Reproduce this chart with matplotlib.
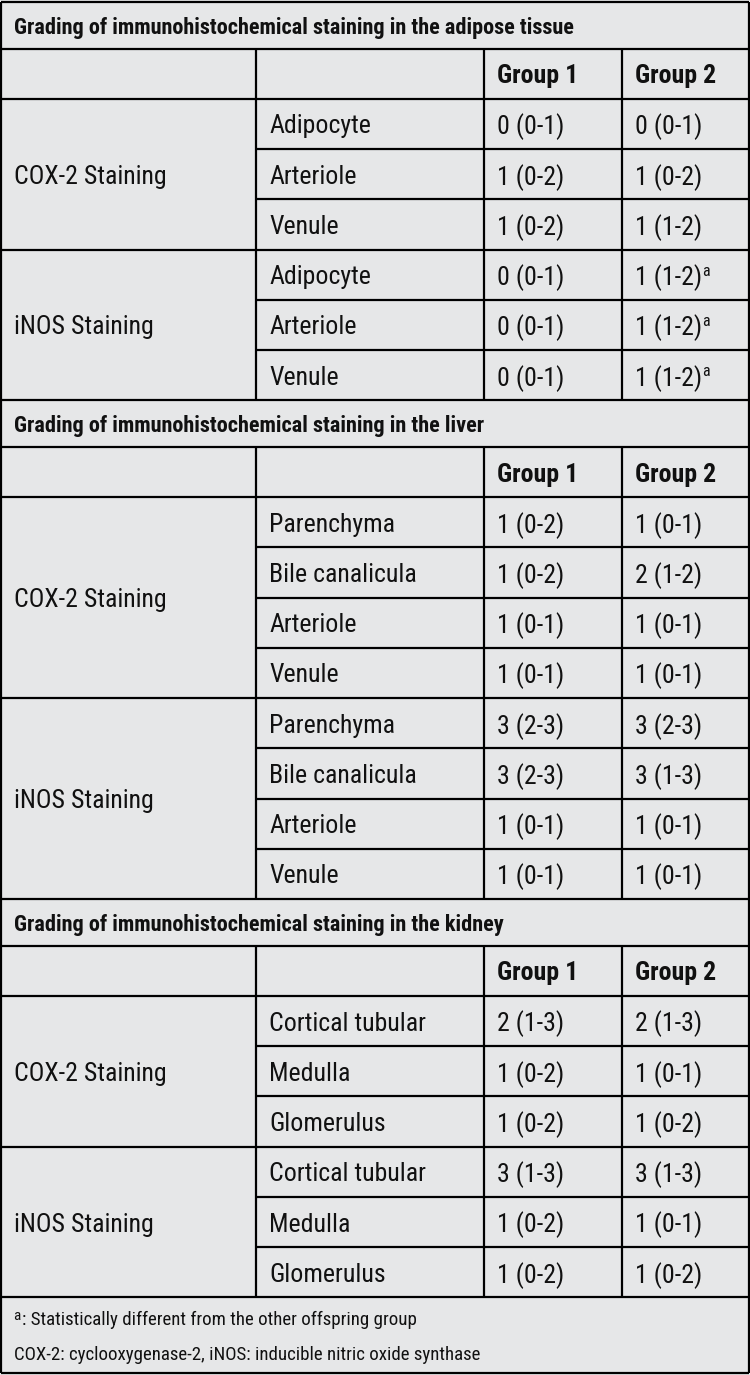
import matplotlib
matplotlib.use("Agg")
import matplotlib.pyplot as plt

#====================1======================
#               data
#===========================================
group_labels = ["Group 1", "Group 2"]
marker_labels = ["COX-2 Staining", "iNOS Staining"]

adipose_title = "Grading of immunohistochemical staining in the adipose tissue"
adipose_sites = ["Adipocyte", "Arteriole", "Venule"]
adipose_cox_g1 = ["0 (0-1)", "1 (0-2)", "1 (0-2)"]
adipose_cox_g2 = ["0 (0-1)", "1 (0-2)", "1 (1-2)"]
adipose_inos_g1 = ["0 (0-1)", "0 (0-1)", "0 (0-1)"]
adipose_inos_g2 = ["1 (1-2)^a", "1 (1-2)^a", "1 (1-2)^a"]

liver_title = "Grading of immunohistochemical staining in the liver"
liver_sites = ["Parenchyma", "Bile canalicula", "Arteriole", "Venule"]
liver_cox_g1 = ["1 (0-2)", "1 (0-2)", "1 (0-1)", "1 (0-1)"]
liver_cox_g2 = ["1 (0-1)", "2 (1-2)", "1 (0-1)", "1 (0-1)"]
liver_inos_g1 = ["3 (2-3)", "3 (2-3)", "1 (0-1)", "1 (0-1)"]
liver_inos_g2 = ["3 (2-3)", "3 (1-3)", "1 (0-1)", "1 (0-1)"]

kidney_title = "Grading of immunohistochemical staining in the kidney"
kidney_sites = ["Cortical tubular", "Medulla", "Glomerulus"]
kidney_cox_g1 = ["2 (1-3)", "1 (0-2)", "1 (0-2)"]
kidney_cox_g2 = ["2 (1-3)", "1 (0-1)", "1 (0-2)"]
kidney_inos_g1 = ["3 (1-3)", "1 (0-2)", "1 (0-2)"]
kidney_inos_g2 = ["3 (1-3)", "1 (0-1)", "1 (0-2)"]

footnote_1 = ": Statistically different from the other offspring group"
footnote_2 = "COX-2: cyclooxygenase-2, iNOS: inducible nitric oxide synthase"

sections = [
    (adipose_title, adipose_sites, [(adipose_cox_g1, adipose_cox_g2),
                                    (adipose_inos_g1, adipose_inos_g2)]),
    (liver_title, liver_sites, [(liver_cox_g1, liver_cox_g2),
                                (liver_inos_g1, liver_inos_g2)]),
    (kidney_title, kidney_sites, [(kidney_cox_g1, kidney_cox_g2),
                                  (kidney_inos_g1, kidney_inos_g2)]),
]

#====================2======================
#          layout (pixels)
#===========================================
W, H = 750, 1375
bg = "#e6e7e8"
ink = "#111111"
lw = 1.6
col_x = [1, 256, 484, 622, 749]
pad = 13
y_top = 2
h_title, h_head, h_row = 46.8, 50.0, 50.25
fs, fs_title, fs_note = 18.6, 16, 13.6

plt.rcParams['font.family'] = ['Roboto Condensed', 'DejaVu Sans']

fig = plt.figure(figsize=(W / 100, H / 100), dpi=100, facecolor=bg)
ax = fig.add_axes([0, 0, 1, 1])
ax.set_xlim(0, W)
ax.set_ylim(H, 0)
ax.axis('off')
ax.set_facecolor(bg)


def hline(y, x0=col_x[0], x1=col_x[-1]):
    ax.plot([x0, x1], [y, y], color='black', lw=lw, solid_capstyle='butt')


def vline(x, y0, y1):
    ax.plot([x, x], [y0, y1], color='black', lw=lw, solid_capstyle='butt')


fig.canvas.draw()
renderer = fig.canvas.get_renderer()


def cell_text(x, y, s, **kw):
    # "^a" marks a superscript footnote letter
    sup = s.endswith("^a")
    s = s.replace("^a", "")
    t = ax.text(x, y, s, va='center_baseline', ha='left', fontsize=fs, color=ink, **kw)
    if sup:
        bb = t.get_window_extent(renderer=renderer)
        xd = ax.transData.inverted().transform((bb.x1, 0))[0]
        ax.text(xd, y - 5, "a", va='center_baseline', ha='left', fontsize=fs * 0.62, color=ink)


#====================3======================
#          draw table
#===========================================
y = y_top
hline(y)
for title, sites, markers in sections:
    ax.text(col_x[0] + pad, y + h_title / 2, title, fontsize=fs_title, fontweight='bold',
            va='center_baseline', ha='left', color=ink)
    y += h_title
    hline(y)
    y_head = y
    for gi, g in enumerate(group_labels):
        ax.text(col_x[2 + gi] + pad, y + h_head / 2, g, fontsize=fs, fontweight='bold',
                va='center_baseline', ha='left', color=ink)
    y += h_head
    hline(y)
    for mi, (g1, g2) in enumerate(markers):
        y0 = y
        for si, site in enumerate(sites):
            yc = y + h_row / 2
            cell_text(col_x[1] + pad, yc, site)
            cell_text(col_x[2] + pad, yc, g1[si])
            cell_text(col_x[3] + pad, yc, g2[si])
            y += h_row
            if si < len(sites) - 1:
                hline(y, x0=col_x[1])
        cell_text(col_x[0] + pad, (y0 + y) / 2, marker_labels[mi])
        hline(y)
    for x in col_x[1:4]:
        vline(x, y_head, y)

# footnotes
ax.text(col_x[0] + pad - 1, y + 17, "a", fontsize=fs_note * 0.8, va='center_baseline',
        ha='left', color=ink)
ax.text(col_x[0] + pad + 8, y + 21, footnote_1, fontsize=fs_note, va='center_baseline',
        ha='left', color=ink)
ax.text(col_x[0] + pad, y + 56, footnote_2, fontsize=fs_note, va='center_baseline',
        ha='left', color=ink)
y_end = H - 2
hline(y_end)
vline(col_x[0], y_top, y_end)
vline(col_x[-1], y_top, y_end)

fig.savefig("out.png", dpi=100, facecolor=bg)
